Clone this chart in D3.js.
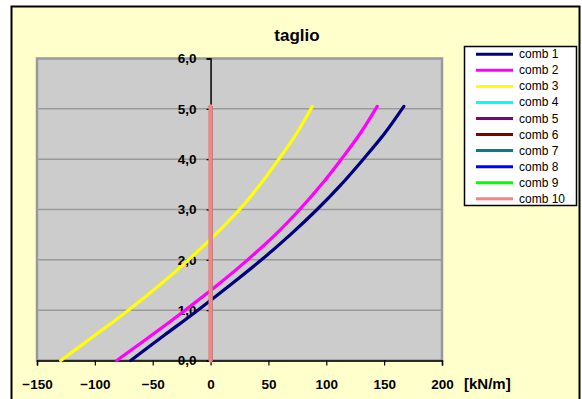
<!DOCTYPE html>
<html><head><meta charset="utf-8">
<script src="https://cdn.jsdelivr.net/npm/d3@7"></script>
<style>body{margin:0;background:#fff}svg{display:block;font-family:Arial,"Liberation Sans",sans-serif}</style>
</head><body>
<svg id="c" width="582" height="399"></svg>
<script>
const depths = [0, 0.5, 1, 1.5, 2, 2.5, 3, 3.5, 4, 4.5, 5.05];
const comb1 = [-69, -40, -11, 17, 44, 69, 92, 113, 132, 150, 167];
const comb2 = [-81, -51, -22, 6, 32, 56, 77, 96, 113, 129, 144];
const comb3 = [-129.5, -100, -71, -44, -19, 4, 25, 43, 59, 74, 88];
const zeros = [0, 0, 0, 0, 0, 0, 0, 0, 0, 0, 0];
const seriesNames = ["comb 1","comb 2","comb 3","comb 4","comb 5","comb 6","comb 7","comb 8","comb 9","comb 10"];
const seriesValues = [comb1, comb2, comb3, zeros, zeros, zeros, zeros, zeros, zeros, zeros];
const seriesColors = ["#000080","#FF00FF","#FFFF00","#00FFFF","#800080","#800000","#008080","#0000FF","#00FF00","#FF8080"];
const xTicks = [-150, -100, -50, 0, 50, 100, 150, 200];
const yTicks = [0, 1, 2, 3, 4, 5, 6];

const svg = d3.select("#c");
svg.append("rect").attr("x",11.5).attr("y",6.5).attr("width",568).attr("height",400)
  .attr("fill","#FFFFCC").attr("stroke","#000").attr("stroke-width",2);

const L=37, R=442, T=58.5, B=360.5;
const x = d3.scaleLinear().domain([-150,200]).range([L,R]);
const y = d3.scaleLinear().domain([0,6]).range([B,T]);

svg.append("rect").attr("x",L).attr("y",T).attr("width",R-L).attr("height",B-T)
  .attr("fill","#CCCCCC").attr("stroke","#999999").attr("stroke-width",2.5);

svg.append("g").selectAll("line").data(yTicks.filter(d=>d>0&&d<6)).join("line")
  .attr("x1",L).attr("x2",R).attr("y1",d=>y(d)).attr("y2",d=>y(d))
  .attr("stroke","#9a9a9a").attr("stroke-width",1.5);

const font = "Arial,'Liberation Sans',sans-serif";
// x axis
const xa = svg.append("g").attr("transform",`translate(0,${B})`)
  .call(d3.axisBottom(x).tickValues(xTicks).tickSize(5).tickPadding(14).tickFormat(d3.format("d")));
xa.select(".domain").attr("stroke","#000").attr("stroke-width",1.5);
xa.selectAll(".tick line").attr("stroke","#000").attr("stroke-width",1.2);
xa.selectAll("text").attr("font-size",13.5).attr("font-weight","bold").attr("fill","#000")
  .attr("font-family",font);

// y axis at x=0
const ya = svg.append("g").attr("transform",`translate(${x(0)},0)`)
  .call(d3.axisLeft(y).tickValues(yTicks).tickSize(4).tickSizeOuter(4).tickPadding(10).tickFormat(d=>d3.format(".1f")(d).replace(".",",")));
ya.select(".domain").attr("stroke","#000").attr("stroke-width",1.5);
ya.selectAll(".tick line").attr("stroke","#000").attr("stroke-width",1.2);
ya.selectAll("text").attr("font-size",13.5).attr("font-weight","bold").attr("fill","#000")
  .attr("font-family",font);

const line = d3.line().x(d=>x(d[0])).y(d=>y(d[1])).curve(d3.curveCatmullRom.alpha(0.5));
seriesValues.forEach((vals,i)=>{
  svg.append("path").datum(vals.map((v,j)=>[v,depths[j]]))
    .attr("d",line).attr("fill","none").attr("stroke",seriesColors[i])
    .attr("stroke-width", i===9 ? 4 : 3.2).attr("stroke-linecap","round");
});

svg.append("text").attr("x",297).attr("y",41).attr("text-anchor","middle")
  .attr("font-size",17).attr("font-weight","bold").text("taglio");
svg.append("text").attr("x",464).attr("y",389)
  .attr("font-size",15).attr("font-weight","bold").text("[kN/m]");

// legend
const lg = svg.append("g");
lg.append("rect").attr("x",464.5).attr("y",46.5).attr("width",112).attr("height",159)
  .attr("fill","#fff").attr("stroke","#000").attr("stroke-width",1.5);
seriesNames.forEach((n,i)=>{
  const yy = 54.3 + i*16.05;
  lg.append("line").attr("x1",476).attr("x2",513).attr("y1",yy).attr("y2",yy)
    .attr("stroke",seriesColors[i]).attr("stroke-width",3);
  lg.append("text").attr("x",519).attr("y",yy+4).attr("font-size",12).text(n);
});
</script>
</body></html>
